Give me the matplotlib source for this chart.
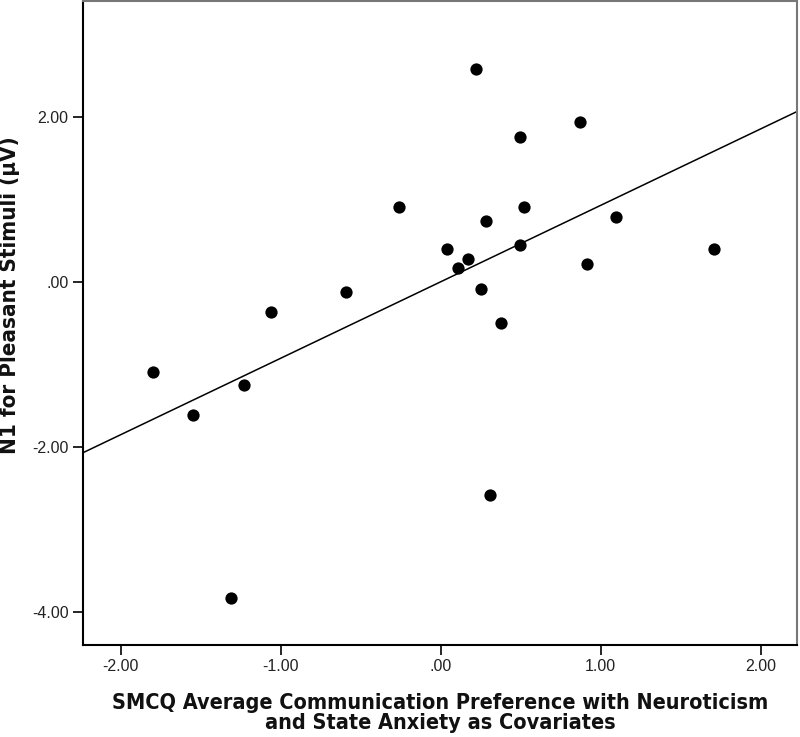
import numpy as np
import matplotlib
matplotlib.use("Agg")
import matplotlib.pyplot as plt
from matplotlib import font_manager

# values
smcq = [-1.80, -1.548, -1.308, -1.23, -1.06, -0.59, -0.26, 0.042, 0.106, 0.169,
        0.219, 0.252, 0.281, 0.308, 0.379, 0.498, 0.498, 0.523, 0.869, 0.914,
        1.098, 1.706]
n1 = [-1.10, -1.61, -3.83, -1.25, -0.37, -0.13, 0.91, 0.40, 0.17, 0.275,
      2.58, -0.09, 0.73, -2.58, -0.50, 1.75, 0.45, 0.905, 1.94, 0.215,
      0.78, 0.39]
xticks = [-2, -1, 0, 1, 2]
yticks = [-4, -2, 0, 2]
xlim = (-2.234, 2.225)
ylim = (-4.40, 3.40)


def spss_fmt(v):
    s = "%.2f" % v
    if s.startswith("0."):
        s = s[1:]
    elif s.startswith("-0."):
        s = "-" + s[2:]
    return s


# narrow bold face for axis titles if one is around
names = {f.name for f in font_manager.fontManager.ttflist}
condensed = any(f.name == "DejaVu Sans" and f.stretch in ("condensed", 400)
                for f in font_manager.fontManager.ttflist)
if "Liberation Sans Narrow" in names:
    lab_kw = dict(family=["Liberation Sans Narrow", "DejaVu Sans"])
elif condensed:
    lab_kw = dict(family=["DejaVu Sans"], fontstretch="condensed")
else:
    lab_kw = dict(family=["Liberation Sans", "DejaVu Sans"])

x = np.array(smcq)
y = np.array(n1)

fig = plt.figure(figsize=(8, 7.37), dpi=100)
ax = fig.add_axes([0.104, 0.125, 0.892, 0.8736])

ax.scatter(x, y, s=78, color="black", zorder=3, linewidths=0)

# least squares fit line across the full x range
slope, intercept = np.polyfit(x, y, 1)
xs = np.array(xlim)
ax.plot(xs, intercept + slope * xs, color="black", lw=1.1, zorder=2)

ax.set_xlim(xlim)
ax.set_ylim(ylim)
ax.set_xticks(xticks)
ax.set_yticks(yticks)
ax.set_xticklabels([spss_fmt(v) for v in xticks])
ax.set_yticklabels([spss_fmt(v) for v in yticks])
ax.tick_params(direction="out", length=7, width=1.2, labelsize=11.5,
               color="black", labelcolor="#222222")
for lab in ax.get_xticklabels() + ax.get_yticklabels():
    lab.set_family(["Liberation Sans", "DejaVu Sans"])

ax.spines["left"].set_color("black")
ax.spines["bottom"].set_color("black")
ax.spines["top"].set_color("#777777")
ax.spines["right"].set_color("#777777")
for sp in ax.spines.values():
    sp.set_linewidth(1.5)

ax.set_xlabel("SMCQ Average Communication Preference with Neuroticism\nand State Anxiety as Covariates",
              fontsize=15.5, fontweight="bold", labelpad=13,
              linespacing=1.05, color="#111111", **lab_kw)
ax.set_ylabel("N1 for Pleasant Stimuli (\u03bcV)", fontsize=16, fontweight="bold",
              color="#111111", **lab_kw)
ax.yaxis.set_label_coords(-0.088, 0.543)

fig.savefig("out.png", dpi=100)
